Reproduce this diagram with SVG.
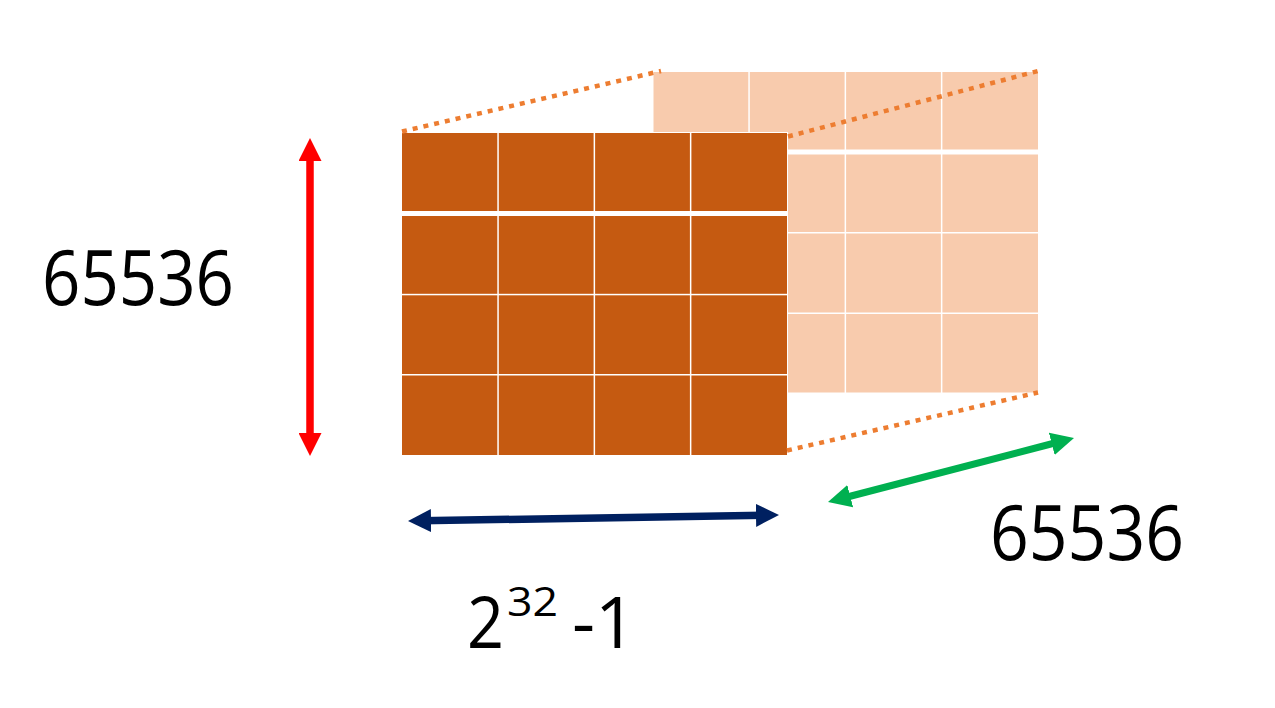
<svg xmlns="http://www.w3.org/2000/svg" width="1275" height="708" viewBox="0 0 1275 708">
  <style>
    .front { fill: #C55A11; }
    .back { fill: #F8CBAD; }
    .dot { fill: none; stroke: #ED7D31; stroke-width: 4.5; stroke-dasharray: 5 6; }
    .lbl { font-family: "Open Sans", "Noto Sans", "Liberation Sans", sans-serif; fill: #000000; }
  </style>
  <defs>
    <marker id="hRed" markerUnits="userSpaceOnUse" markerWidth="23" markerHeight="23" refX="11" refY="11.5" orient="auto-start-reverse" viewBox="0 0 23 23">
      <path d="M0,0 L23,11.5 L0,23 z" fill="#FF0000"/>
    </marker>
    <marker id="hNavy" markerUnits="userSpaceOnUse" markerWidth="23" markerHeight="23" refX="11" refY="11.5" orient="auto-start-reverse" viewBox="0 0 23 23">
      <path d="M0,0 L23,11.5 L0,23 z" fill="#002060"/>
    </marker>
    <marker id="hGreen" markerUnits="userSpaceOnUse" markerWidth="23" markerHeight="23" refX="11" refY="11.5" orient="auto-start-reverse" viewBox="0 0 23 23">
      <path d="M0,0 L23,11.5 L0,23 z" fill="#00B050"/>
    </marker>
  </defs>
  <rect width="1275" height="708" fill="#FFFFFF"/>

  <g id="back-grid">
    <rect class="back" x="653.5" y="72" width="94.8" height="77.5"/>
    <rect class="back" x="749.8" y="72" width="94.8" height="77.5"/>
    <rect class="back" x="846.1" y="72" width="94.8" height="77.5"/>
    <rect class="back" x="942.4" y="72" width="95.6" height="77.5"/>
    <rect class="back" x="653.5" y="154.5" width="94.8" height="77.5"/>
    <rect class="back" x="749.8" y="154.5" width="94.8" height="77.5"/>
    <rect class="back" x="846.1" y="154.5" width="94.8" height="77.5"/>
    <rect class="back" x="942.4" y="154.5" width="95.6" height="77.5"/>
    <rect class="back" x="653.5" y="233.5" width="94.8" height="79"/>
    <rect class="back" x="749.8" y="233.5" width="94.8" height="79"/>
    <rect class="back" x="846.1" y="233.5" width="94.8" height="79"/>
    <rect class="back" x="942.4" y="233.5" width="95.6" height="79"/>
    <rect class="back" x="653.5" y="314" width="94.8" height="78.5"/>
    <rect class="back" x="749.8" y="314" width="94.8" height="78.5"/>
    <rect class="back" x="846.1" y="314" width="94.8" height="78.5"/>
    <rect class="back" x="942.4" y="314" width="95.6" height="78.5"/>
  </g>

  <g id="front-grid">
    <rect x="401" y="132" width="387" height="324" fill="#FFFFFF"/>
    <rect class="front" x="402" y="133" width="95.3" height="78"/>
    <rect class="front" x="498.8" y="133" width="94.8" height="78"/>
    <rect class="front" x="595.1" y="133" width="94.8" height="78"/>
    <rect class="front" x="691.4" y="133" width="95.6" height="78"/>
    <rect class="front" x="402" y="216" width="95.3" height="77.8"/>
    <rect class="front" x="498.8" y="216" width="94.8" height="77.8"/>
    <rect class="front" x="595.1" y="216" width="94.8" height="77.8"/>
    <rect class="front" x="691.4" y="216" width="95.6" height="77.8"/>
    <rect class="front" x="402" y="295.3" width="95.3" height="78.7"/>
    <rect class="front" x="498.8" y="295.3" width="94.8" height="78.7"/>
    <rect class="front" x="595.1" y="295.3" width="94.8" height="78.7"/>
    <rect class="front" x="691.4" y="295.3" width="95.6" height="78.7"/>
    <rect class="front" x="402" y="375.5" width="95.3" height="79.5"/>
    <rect class="front" x="498.8" y="375.5" width="94.8" height="79.5"/>
    <rect class="front" x="595.1" y="375.5" width="94.8" height="79.5"/>
    <rect class="front" x="691.4" y="375.5" width="95.6" height="79.5"/>
  </g>

  <g id="connectors">
    <line class="dot" x1="402" y1="131.5" x2="661" y2="71"/>
    <line class="dot" x1="788" y1="136.5" x2="1038" y2="71"/>
    <line class="dot" x1="787" y1="450.5" x2="1038" y2="392.5"/>
    <line x1="310" y1="150" x2="310" y2="444" stroke="#FF0000" stroke-width="7.5" marker-start="url(#hRed)" marker-end="url(#hRed)"/>
    <line x1="420" y1="520.8" x2="767" y2="515.2" stroke="#002060" stroke-width="7.5" marker-start="url(#hNavy)" marker-end="url(#hNavy)"/>
    <line x1="839.6" y1="499" x2="1062.4" y2="441" stroke="#00B050" stroke-width="7" marker-start="url(#hGreen)" marker-end="url(#hGreen)"/>
  </g>

  <g id="label-height">
    <text class="lbl" x="42" y="305" font-size="76" textLength="192" lengthAdjust="spacingAndGlyphs">65536</text>
  </g>
  <g id="label-depth">
    <text class="lbl" x="990" y="560" font-size="76" textLength="194" lengthAdjust="spacingAndGlyphs">65536</text>
  </g>
  <g id="label-width">
    <text class="lbl" x="467" y="648" font-size="72" textLength="37" lengthAdjust="spacingAndGlyphs">2</text>
    <text class="lbl" x="507" y="616" font-size="40" textLength="51" lengthAdjust="spacingAndGlyphs">32</text>
    <text class="lbl" x="572" y="648" font-size="72" textLength="64" lengthAdjust="spacingAndGlyphs">-1</text>
  </g>
</svg>
